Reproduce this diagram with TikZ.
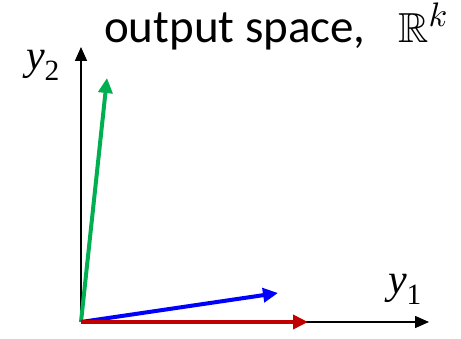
\documentclass[tikz,border=0pt]{standalone}
\usepackage{amssymb}
\usepackage{fontspec}
\setmainfont{Carlito}
\usetikzlibrary{arrows.meta}
\definecolor{vecgreen}{RGB}{0,176,80}
\definecolor{vecblue}{RGB}{0,0,255}
\definecolor{vecred}{RGB}{192,0,0}
\tikzset{
  axis/.style={line width=1.5pt, -{Triangle[length=14pt, width=12pt]}},
  vec/.style={line width=4pt, -{Triangle[length=15pt, width=14pt]}},
  axislabel/.style={font=\fontspec{Liberation Serif}\fontsize{42}{48}\selectfont}
}
\begin{document}
\begin{tikzpicture}[x=1pt, y=1pt]
    \useasboundingbox (0,0) rectangle (461,338);
    % axes
    \coordinate (O) at (81,16);
    \coordinate (y1tip) at (429,16);
    \coordinate (y2tip) at (81,291);
    \draw[axis] (O) -- (y1tip);
    \draw[axis] (O) -- (y2tip);

    % vectors
    \coordinate (g) at (107,260);
    \coordinate (b) at (278,45);
    \coordinate (r) at (308,16);
    \draw[vec, vecgreen] (O) -- (g);
    \draw[vec, vecblue] (O) -- (b);
    \draw[vec, vecred] (O) -- (r);

    \node[axislabel] (y2lab) at (43,273) {\itshape y\textsubscript{\upshape 2}};
    \node[axislabel] (y1lab) at (405,49) {\itshape y\textsubscript{\upshape 1}};
    \node[anchor=base west, inner sep=0pt] (title) at (104,295)
      {\fontsize{47}{54}\selectfont output space,};
    \node[anchor=base west, inner sep=0pt] (space) at (398,295)
      {\scalebox{4.2}{\normalsize$\mathbb{R}$}\raisebox{16pt}{\scalebox{3.4}{\normalsize$k$}}};
\end{tikzpicture}
\end{document}
